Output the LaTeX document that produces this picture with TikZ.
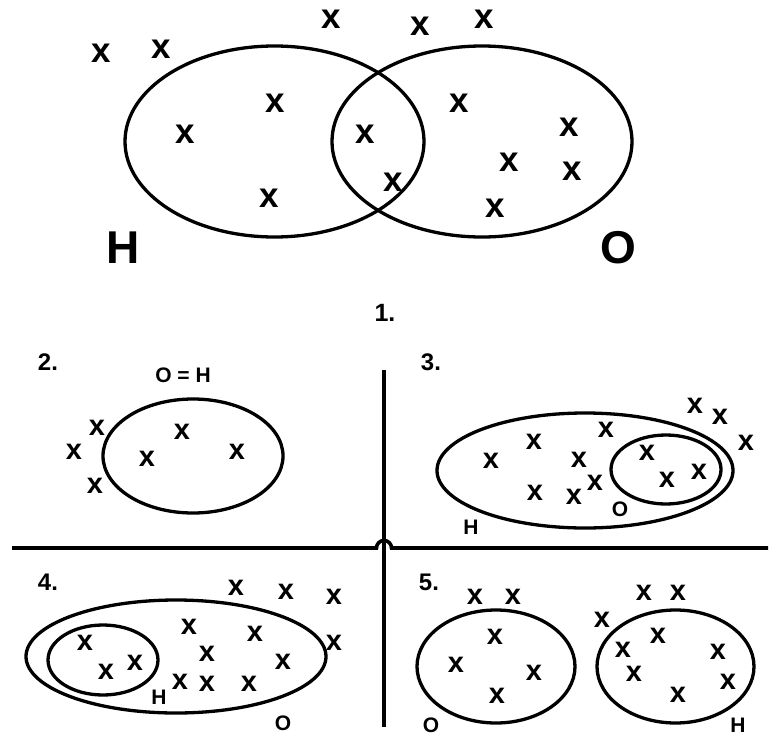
\documentclass[tikz,border=0pt]{standalone}
\usepackage{fontspec}
\setmainfont{Liberation Sans}
\usetikzlibrary{positioning}

\begin{document}
\begin{tikzpicture}[
    x=1pt, y=-1pt,
    set/.style={line width=3.3pt},
    rule/.style={line width=3.6pt},
    elem/.style={inner sep=0pt, font=\fontsize{29}{29}\selectfont\bfseries},
    bigelem/.style={inner sep=0pt, font=\fontsize{35}{35}\selectfont\bfseries},
    bigname/.style={inner sep=0pt, font=\fontsize{46}{46}\selectfont\bfseries},
    setname/.style={inner sep=0pt, font=\fontsize{21}{21}\selectfont\bfseries},
    panel/.style={inner sep=0pt, font=\fontsize{24}{24}\selectfont\bfseries}
]
\useasboundingbox (0,0) rectangle (771,736);

% 1. overlapping sets
\coordinate (h1) at (274.5,141.5);
\coordinate (o1) at (482,141.5);
\draw[set] (h1) ellipse [x radius=149.5pt, y radius=95.5pt];
\draw[set] (o1) ellipse [x radius=150pt, y radius=95.5pt];
\foreach \px/\py [count=\i] in {101/53, 161/49, 331/19, 420/26, 484/19,
    275/103, 185/134, 365/134, 459/103, 569/127, 393/182, 509/162,
    572/171, 269/198, 495/208}
  \node[bigelem] (a\i) at (\px,\py) {x};
\node[bigname] (hname1) at (123,248) {H};
\node[bigname] (oname1) at (618,248) {O};
\node[panel, font=\fontsize{25}{25}\selectfont\bfseries] (p1) at (385,313) {1.};

% cross dividing the lower panels
\coordinate (vtop) at (384,370);
\coordinate (vbot) at (384,727);
\coordinate (hleft) at (12,548);
\coordinate (hright) at (768,548);
\draw[rule] (vtop) -- (vbot);
\draw[rule] (hleft) -- (376.5,548) arc[start angle=180, end angle=0, radius=7.5pt] -- (hright);

% 2. equal sets
\node[panel] (p2) at (48,362) {2.};
\node[setname] (eq2) at (183,375) {O = H};
\draw[set] (193,456) ellipse [x radius=90pt, y radius=57pt];
\foreach \px/\py [count=\i] in {97/428, 74/452, 95/486, 182/432, 147/459, 237/452}
  \node[elem] (b\i) at (\px,\py) {x};

% 3. O inside H
\node[panel] (p3) at (431,362) {3.};
\draw[set] (585,470.5) ellipse [x radius=148pt, y radius=57.5pt];
\draw[set] (666,469.5) ellipse [x radius=55pt, y radius=34.5pt];
\foreach \px/\py [count=\i] in {695/406, 720/417, 746/443, 606/430, 534/442,
    491/461, 579/460, 647/453, 699/472, 667/480, 595/483, 535/493, 574/497}
  \node[elem] (c\i) at (\px,\py) {x};
\node[setname] (oname3) at (620,509) {O};
\node[setname] (hname3) at (471,527) {H};

% 4. H inside O
\node[panel] (p4) at (48,582) {4.};
\draw[set] (176,656.5) ellipse [x radius=150pt, y radius=56.5pt];
\draw[set] (103,660) ellipse [x radius=55pt, y radius=35pt];
\foreach \px/\py [count=\i] in {236/588, 286/592, 334/597, 189/627, 255/634,
    334/643, 207/654, 283/662, 85/643, 106/672, 135/663, 180/682, 207/684, 249/684}
  \node[elem] (d\i) at (\px,\py) {x};
\node[setname] (hname4) at (159,697) {H};
\node[setname] (oname4) at (283,723) {O};

% 5. disjoint sets
\node[panel] (p5) at (429,582) {5.};
\draw[set] (496,666.5) ellipse [x radius=79pt, y radius=56.5pt];
\draw[set] (675.5,666.5) ellipse [x radius=78.5pt, y radius=56.5pt];
\foreach \px/\py [count=\i] in {475/597, 513/597, 495/637, 456/665, 534/673,
    497/696, 644/593, 678/593, 602/620, 658/636, 623/650, 634/674, 718/652,
    728/682, 678/695}
  \node[elem] (e\i) at (\px,\py) {x};
\node[setname] (oname5) at (431,725) {O};
\node[setname] (hname5) at (738,725) {H};
\end{tikzpicture}
\end{document}
